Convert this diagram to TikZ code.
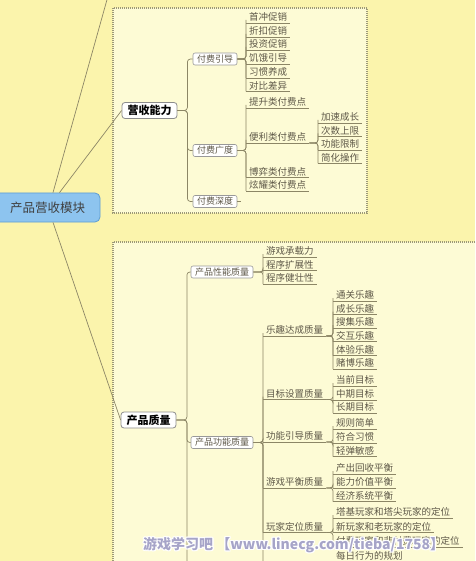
\documentclass[tikz,border=0pt]{standalone}
\usepackage{fontspec}
\setmainfont{Noto Sans CJK SC}
\usetikzlibrary{calc}
\definecolor{bgc}{HTML}{FBF4AC}
\definecolor{boxc}{HTML}{FDFBD5}
\definecolor{linec}{HTML}{8C8666}
\definecolor{dotc}{HTML}{9C9878}
\definecolor{txtc}{HTML}{5E5848}
\definecolor{rootf}{HTML}{8DC4EF}
\definecolor{rootd}{HTML}{5F9DD2}
\definecolor{wmc}{HTML}{A6A4C8}
\begin{document}
\begin{tikzpicture}[x=1pt,y=-1pt,
  conn/.style={draw=linec,line width=0.7pt,rounded corners=3pt},
  rootline/.style={draw=linec,line width=0.7pt},
  dotbox/.style={draw=dotc,line width=1.1pt,dash pattern=on 1pt off 1pt,fill=boxc},
  rootbox/.style={fill=rootf,draw=rootd,line width=0.8pt,rounded corners=5pt,font=\fontsize{12.5}{14}\selectfont,text=black!75,minimum height=29pt,minimum width=105pt},
  mainbox/.style={fill=white,draw=black!45,line width=0.8pt,rounded corners=3pt,font=\fontsize{11}{13}\selectfont\bfseries,minimum height=16pt,minimum width=55pt,inner ysep=1pt},
  subbox/.style={fill=white,draw=black!40,line width=0.6pt,rounded corners=2pt,font=\fontsize{9}{10}\selectfont,text=txtc,minimum height=12pt,inner xsep=4pt,inner ysep=1pt},
  leaf/.style={anchor=south west,font=\fontsize{9.5}{10}\selectfont,text=txtc,inner xsep=3pt,inner ysep=1.2pt,
    append after command={(\tikzlastnode.south west) edge[draw=linec,line width=0.7pt] (\tikzlastnode.south east)}},
  wm/.style={anchor=west,font=\fontsize{14}{16}\selectfont\bfseries,inner sep=0pt},
]
\useasboundingbox (0,0) rectangle (475,561);
\fill[bgc] (0,0) rectangle (475,561);
\clip (0,0) rectangle (475,561);

% frames
\draw[dotbox] (113,8) rectangle (367,213);
\draw[dotbox] (113,242) rectangle (490,590);

% main nodes
\node[rootbox] (root) at (47.5,207.5) {产品营收模块};
\node[mainbox] (yszl) at (149.5,110.5) {营收能力};
\node[mainbox] (cpzl) at (148.5,420) {产品质量};

% revenue subtree
\node[subbox] (fyyd) at (215,59) {付费引导};
\node[subbox] (fygd) at (215,150.5) {付费广度};
\node[subbox] (fysd) at (215,201.5) {付费深度};

\node[leaf] (a1) at (246,23) {首冲促销};
\node[leaf] (a2) at (246,37) {折扣促销};
\node[leaf] (a3) at (246,50) {投资促销};
\node[leaf] (a4) at (246,64) {饥饿引导};
\node[leaf] (a5) at (246,78) {习惯养成};
\node[leaf] (a6) at (246,91.5) {对比差异};

\node[leaf] (b1) at (246,108) {提升类付费点};
\node[leaf] (b2) at (246,143) {便利类付费点};
\node[leaf] (b3) at (246,177.5) {博弈类付费点};
\node[leaf] (b4) at (246,191) {炫耀类付费点};

\node[leaf] (c1) at (318,123) {加速成长};
\node[leaf] (c2) at (318,136.5) {次数上限};
\node[leaf] (c3) at (318,150) {功能限制};
\node[leaf] (c4) at (318,163.5) {简化操作};

% quality subtree
\node[subbox] (xnzl) at (222,272) {产品性能质量};
\node[subbox] (gnzl) at (222,442.5) {产品功能质量};

\node[leaf] (p1) at (263,257) {游戏承载力};
\node[leaf] (p2) at (263,270.5) {程序扩展性};
\node[leaf] (p3) at (263,284) {程序健壮性};

\node[leaf] (d1) at (263,336) {乐趣达成质量};
\node[leaf] (d2) at (263,399.5) {目标设置质量};
\node[leaf] (d3) at (263,442) {功能引导质量};
\node[leaf] (d4) at (263,488) {游戏平衡质量};
\node[leaf] (d5) at (263,532.5) {玩家定位质量};

\node[leaf] (e1) at (333,301) {通关乐趣};
\node[leaf] (e2) at (333,314.5) {成长乐趣};
\node[leaf] (e3) at (333,328) {搜集乐趣};
\node[leaf] (e4) at (333,341.5) {交互乐趣};
\node[leaf] (e5) at (333,355.5) {体验乐趣};
\node[leaf] (e6) at (333,369) {赌博乐趣};

\node[leaf] (f1) at (333,386) {当前目标};
\node[leaf] (f2) at (333,400) {中期目标};
\node[leaf] (f3) at (333,413) {长期目标};

\node[leaf] (g1) at (333,429) {规则简单};
\node[leaf] (g2) at (333,443) {符合习惯};
\node[leaf] (g3) at (333,456.5) {轻弹敏感};

\node[leaf] (h1) at (333,474) {产出回收平衡};
\node[leaf] (h2) at (333,488) {能力价值平衡};
\node[leaf] (h3) at (333,501.5) {经济系统平衡};

\node[leaf] (k1) at (333,518) {塔基玩家和塔尖玩家的定位};
\node[leaf] (k2) at (333,532.5) {新玩家和老玩家的定位};
\node[leaf] (k3) at (333,547) {付费玩家和非付费玩家的定位};
\node[leaf] (k4) at (333,562) {每日行为的规划};

% connectors from root
\coordinate (topout) at (112.5,-20);
\draw[rootline] ($(root.north)+(5.5,0)$) -- (topout);
\draw[rootline] ($(root.north)+(12,0)$) -- (yszl.west);
\draw[rootline] ($(root.south)+(5.5,0)$) -- (cpzl.west);

% revenue connectors
\foreach \c in {fyyd,fygd,fysd}
  \draw[conn] (yszl.east) -- ++(10,0) |- (\c.west);
\foreach \c in {a1,a2,a3,a4,a5,a6}
  \draw[conn] (fyyd.east) -- (fyyd.east -| a1.south west) |- (\c.south west);
\foreach \c in {b1,b2,b3,b4}
  \draw[conn] (fygd.east) -- (fygd.east -| b1.south west) |- (\c.south west);
\foreach \c in {c1,c2,c3,c4}
  \draw[conn] (b2.south east) -- (b2.south east -| c1.south west) |- (\c.south west);
\coordinate (fysdend) at ($(fysd.east)+(4,0)$);
\draw[conn] (fysd.east) -- (fysdend);

% quality connectors
\coordinate (cpzlend) at (187,600);
\foreach \c in {xnzl,gnzl}
  \draw[conn] (cpzl.east) -- ++(10.5,0) |- (\c.west);
\draw[conn] (cpzl.east) -- ++(10.5,0) -- (cpzlend);
\foreach \c in {p1,p2,p3}
  \draw[conn] (xnzl.east) -- (xnzl.east -| p1.south west) |- (\c.south west);
\coordinate (gnzlend) at (263,600);
\foreach \c in {d1,d2,d3,d4,d5}
  \draw[conn] (gnzl.east) -- (gnzl.east -| d1.south west) |- (\c.south west);
\draw[conn] (gnzl.east) -- (gnzl.east -| d1.south west) -- (gnzlend);
\foreach \c in {e1,e2,e3,e4,e5,e6}
  \draw[conn] (d1.south east) -- (d1.south east -| e1.south west) |- (\c.south west);
\foreach \c in {f1,f2,f3}
  \draw[conn] (d2.south east) -- (d2.south east -| f1.south west) |- (\c.south west);
\foreach \c in {g1,g2,g3}
  \draw[conn] (d3.south east) -- (d3.south east -| g1.south west) |- (\c.south west);
\foreach \c in {h1,h2,h3}
  \draw[conn] (d4.south east) -- (d4.south east -| h1.south west) |- (\c.south west);
\foreach \c in {k1,k2,k3}
  \draw[conn] (d5.south east) -- (d5.south east -| k1.south west) |- (\c.south west);
\coordinate (k4end) at (333,600);
\draw[conn] (k4.south west) -- (k4end);

% watermark
\foreach \dx/\dy [count=\i] in {-1.3/0,1.3/0,0/-1.3,0/1.3,-0.9/-0.9,0.9/0.9,-0.9/0.9,0.9/-0.9}
  \node[wm,text=white] (wmo\i) at (143+\dx,545+\dy) {游戏学习吧 【www.linecg.com/tieba/1758】};
\node[wm,text=wmc] (wm) at (143,545) {游戏学习吧 【www.linecg.com/tieba/1758】};
\end{tikzpicture}
\end{document}
